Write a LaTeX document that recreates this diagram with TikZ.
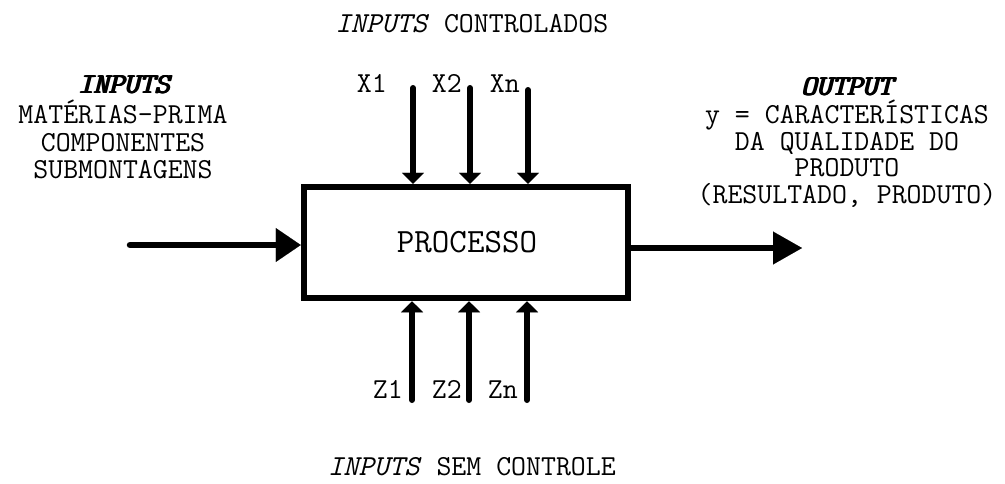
\documentclass[tikz,border=0pt]{standalone}
\usetikzlibrary{arrows.meta}
\newcommand\fbold[1]{\rlap{#1}\kern0.6pt\rlap{#1}\kern0.6pt\rlap{#1}\kern0.6pt#1}
\begin{document}
\begin{tikzpicture}[x=1pt,y=-1pt,
  lbl/.style={font=\fontsize{29}{29}\selectfont\ttfamily, inner sep=0pt, anchor=base},
  lble/.style={lbl, anchor=base east},
  procbox/.style={draw, line width=6.5pt, minimum width=324pt, minimum height=111pt, inner sep=0pt},
  smallarrow/.style={line width=6pt, line cap=round, -{Triangle[length=11pt,width=22pt,line width=0.1pt]}},
  bigin/.style={line width=6.5pt, line cap=round, -{Triangle[length=25pt,width=34pt,line width=0.1pt]}},
  bigout/.style={line width=6.5pt, -{Triangle[length=29pt,width=33pt,line width=0.1pt]}}
]
\useasboundingbox (0,0) rectangle (1005,483);

% titles
\node[lbl] (tctrl) at (472,32) {\textit{INPUTS} CONTROLADOS};
\node[lbl] (tsem) at (472,475) {\textit{INPUTS} SEM CONTROLE};

% left texts
\node[lbl] (lin1) at (124,93) {\itshape\fbold{INPUTS}};
\node[lbl] (lin2) at (123,123) {MATÉRIAS-PRIMA};
\node[lbl] (lin3) at (123,151) {COMPONENTES};
\node[lbl] (lin4) at (123,178) {SUBMONTAGENS};

% right texts
\node[lbl] (rout1) at (847,95) {\itshape\fbold{OUTPUT}};
\node[lbl] (rout2) at (847,123) {y = CARACTERÍSTICAS};
\node[lbl] (rout3) at (847,150) {DA QUALIDADE DO};
\node[lbl] (rout4) at (847,176) {PRODUTO};
\node[lbl] (rout5) at (847,203) {(RESULTADO, PRODUTO)};

% box
\node[procbox] (proc) at (466,242.5) {};
\node[lbl, font=\fontsize{34}{34}\selectfont\ttfamily] (proctxt) at (467,252) {PROCESSO};

% top labels
\node[lble] (x1) at (387,92) {X1};
\node[lble] (x2) at (462,92) {X2};
\node[lble] (xn) at (520,92) {Xn};

% bottom labels
\node[lble] (z1) at (403,398) {Z1};
\node[lble] (z2) at (462,398) {Z2};
\node[lble] (zn) at (518,398) {Zn};

% arrow end points
\coordinate (cx1) at (413,88);
\coordinate (cx2) at (470,88);
\coordinate (cxn) at (528,90);
\coordinate (cz1) at (412,400);
\coordinate (cz2) at (469,400);
\coordinate (czn) at (527,400);
\coordinate (cin) at (130,245);
\coordinate (cout) at (802,248);

\draw[smallarrow] (cx1) -- (cx1 |- proc.north);
\draw[smallarrow] (cx2) -- (cx2 |- proc.north);
\draw[smallarrow] (cxn) -- (cxn |- proc.north);
\draw[smallarrow] (cz1) -- (cz1 |- proc.south);
\draw[smallarrow] (cz2) -- (cz2 |- proc.south);
\draw[smallarrow] (czn) -- (czn |- proc.south);

\draw[bigin] (cin) -- (cin -| proc.west);
\draw[bigout] (cout -| proc.east) -- (cout);
\end{tikzpicture}
\end{document}
